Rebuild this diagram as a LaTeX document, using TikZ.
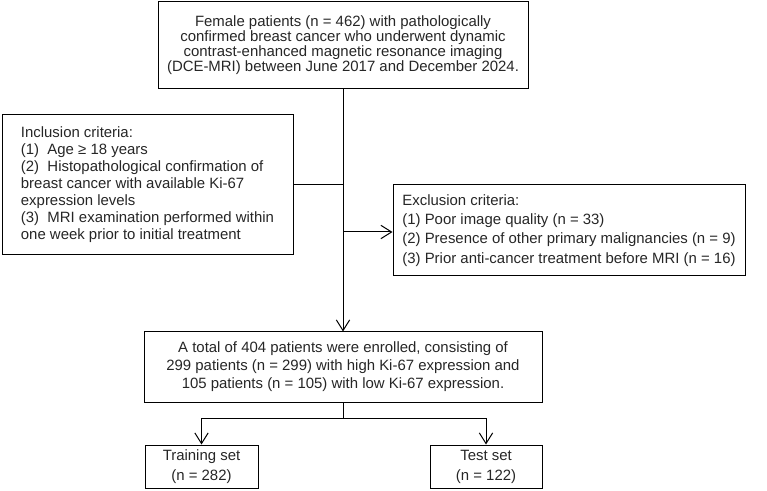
\documentclass[tikz,border=0pt]{standalone}
\usepackage{fontspec}
\setmainfont{Liberation Sans}
\usetikzlibrary{arrows.meta}
\begin{document}
\begin{tikzpicture}[x=0.75pt,y=-0.75pt,
  box/.style={draw=black, line width=0.75pt, inner sep=0pt, text=black!85},
  conn/.style={line width=0.75pt, draw=black},
  arr/.style={conn, -{Straight Barb[length=8pt,width=10pt,line width=0.75pt]}}]
\useasboundingbox (0,0) rectangle (767,491);
\node[box, minimum width=277.5pt, minimum height=65.25pt, align=center,
  font={\fontsize{11.2}{11.3}\selectfont}] (top) at (343,45.5)
  {Female patients (n = 462) with pathologically\\
   confirmed breast cancer who underwent dynamic\\
   contrast-enhanced magnetic resonance imaging\\
   (DCE-MRI) between June 2017 and December 2024.};
\node[box, minimum width=218.25pt, minimum height=105pt, align=left,
  font={\fontsize{11.2}{12.75}\selectfont}] (incl) at (147.5,185)
  {Inclusion criteria:\\
   (1)\ \ Age ≥ 18 years\\
   (2)\ \ Histopathological confirmation of\\
   breast cancer with available Ki-67\\
   expression levels\\
   (3)\ \ MRI examination performed within\\
   one week prior to initial treatment};
\node[box, minimum width=264pt, minimum height=68.25pt, align=left,
  font={\fontsize{11.2}{14.4}\selectfont}] (excl) at (569,230.5)
  {Exclusion criteria:\\
   (1) Poor image quality (n = 33)\\
   (2) Presence of other primary malignancies (n = 9)\\
   (3) Prior anti-cancer treatment before MRI (n = 16)};
\node[box, minimum width=298.5pt, minimum height=52.5pt, align=center,
  font={\fontsize{11.2}{13.6}\selectfont}] (enrol) at (343,367)
  {A total of 404 patients were enrolled, consisting of\\
   299 patients (n = 299) with high Ki-67 expression and\\
   105 patients (n = 105) with low Ki-67 expression.};
\node[box, minimum width=84.75pt, minimum height=32.25pt, align=center,
  font={\fontsize{11.2}{15}\selectfont}] (train) at (201.5,466.5)
  {Training set\\(n = 282)};
\node[box, minimum width=84pt, minimum height=32.25pt, align=center,
  font={\fontsize{11.2}{15}\selectfont}] (test) at (486,466.5)
  {Test set\\(n = 122)};
\draw[arr] (top.south) -- (enrol.north);
\draw[conn] (incl.east) -- (incl.east -| top.south);
\coordinate (exsrc) at (343,232);
\draw[arr] (exsrc) -- (exsrc -| excl.west);
\draw[conn] (enrol.south) -- ++(0,16) coordinate (split);
\draw[arr] (split) -| (train.north);
\draw[arr] (split) -| (test.north);
\end{tikzpicture}
\end{document}
